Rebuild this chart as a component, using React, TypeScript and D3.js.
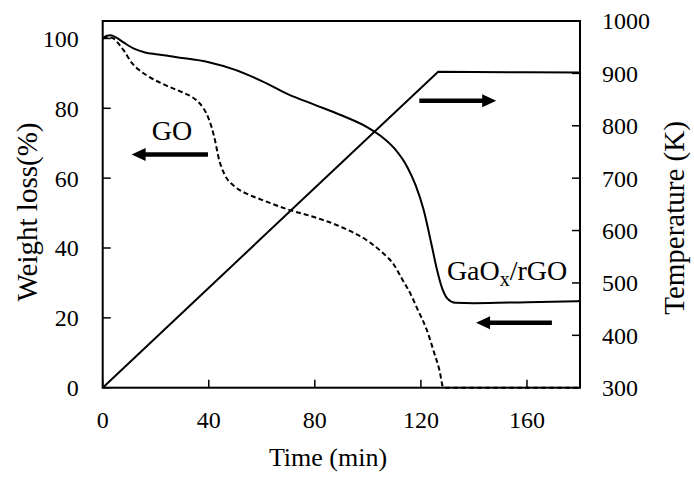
import React from "react";
import * as d3 from "d3";

const xTicks = [0, 40, 80, 120, 160];
const yLeftTicks = [0, 20, 40, 60, 80, 100];
const yRightTicks = [300, 400, 500, 600, 700, 800, 900, 1000];

// GaOx/rGO weight loss (%) vs time (min)
const rgoTime = [0, 1.5, 3, 5, 8, 12, 16, 20, 25, 28, 30, 40, 50, 60, 70, 80, 90, 100, 105, 110, 115, 118, 121, 124, 126, 128, 130, 133, 140, 160, 180];
const rgoWeight = [100, 100.8, 100.9, 100.3, 98.8, 97, 96, 95.5, 95, 94.6, 94.4, 93.2, 91, 87.8, 84, 81, 78, 74.5, 72, 68.5, 63, 58, 51, 41, 34, 28.5, 25.5, 24.3, 24.2, 24.5, 24.8];

// GO weight loss (%) vs time (min)
const goTime = [0, 2, 4, 6, 8, 11, 14, 18, 24, 30, 35, 38, 40, 42, 44, 46, 50, 55, 60, 70, 80, 90, 100, 105, 110, 113, 116, 119, 122, 125, 127, 128.5, 140, 160, 180];
const goWeight = [100, 100.4, 100, 98.5, 96.5, 93, 90.8, 88.8, 86.5, 84.6, 82.5, 80, 77, 72, 65, 61, 57.5, 55.3, 53.8, 51, 48.8, 46, 42, 39, 35, 31, 27, 22, 17, 10, 5, 0, 0, 0, 0];

// Temperature (K) vs time (min)
const tempTime = [0, 126.5, 140, 160, 180];
const tempValue = [300, 903, 902.5, 902, 901.5];

// Annotation arrows in data coords: [tailTime, headTime, weight]
const arrowTails = [39.7, 119.4, 169.4];
const arrowHeads = [10.9, 148.4, 140.8];
const arrowLevels = [66.8, 82.2, 18.6];

const FONT = "'Liberation Serif', 'Times New Roman', serif";

export default function App() {
  const W = 694, H = 477;
  const L = 102.7, R = 580, T = 21, B = 387.7;
  const x = d3.scaleLinear().domain([0, 180]).range([L, R]);
  const yL = d3.scaleLinear().domain([0, 105]).range([B, T]);
  const yR = d3.scaleLinear().domain([300, 1000]).range([B, T]);

  const lineW = d3.line<[number, number]>().x(d => x(d[0])).y(d => yL(d[1])).curve(d3.curveMonotoneX);
  const lineT = d3.line<[number, number]>().x(d => x(d[0])).y(d => yR(d[1]));

  const rgo = rgoTime.map((t, i) => [t, rgoWeight[i]] as [number, number]);
  const go = goTime.map((t, i) => [t, goWeight[i]] as [number, number]);
  const temp = tempTime.map((t, i) => [t, tempValue[i]] as [number, number]);

  const arrows = arrowTails.map((tail, i) => {
    const x1 = x(tail), x2 = x(arrowHeads[i]), yy = yL(arrowLevels[i]);
    const dir = x2 > x1 ? 1 : -1;
    const headLen = 14, headHalf = 6.5;
    const base = x2 - dir * headLen;
    return (
      <g key={i}>
        <line x1={x1} y1={yy} x2={base + dir * 1} y2={yy} stroke="#000" strokeWidth={4.5} />
        <path d={`M${x2},${yy} L${base},${yy - headHalf} L${base},${yy + headHalf} Z`} fill="#000" />
      </g>
    );
  });

  return (
    <svg width={W} height={H} style={{ position: "absolute", left: 0, top: 0, background: "#fff" }} fontFamily={FONT}>
      <rect width={W} height={H} fill="#fff" />
      {/* curves */}
      <path d={lineT(temp) || ""} fill="none" stroke="#000" strokeWidth={2} />
      <path d={lineW(go) || ""} fill="none" stroke="#000" strokeWidth={2} strokeDasharray="5,3" />
      <path d={lineW(rgo) || ""} fill="none" stroke="#000" strokeWidth={2} />
      {/* frame */}
      <rect x={L} y={T} width={R - L} height={B - T} fill="none" stroke="#000" strokeWidth={2} />
      {/* left ticks */}
      {yLeftTicks.map(v => (
        <g key={"l" + v}>
          <line x1={L} x2={L + 8} y1={yL(v)} y2={yL(v)} stroke="#000" strokeWidth={1.5} />
          <text x={L - 24} y={yL(v)} dy="0.35em" textAnchor="end" fontSize={24}>{v}</text>
        </g>
      ))}
      {/* right ticks */}
      {yRightTicks.map(v => (
        <g key={"r" + v}>
          <line x1={R - 8} x2={R} y1={yR(v)} y2={yR(v)} stroke="#000" strokeWidth={1.5} />
          <text x={R + 22} y={yR(v)} dy="0.35em" textAnchor="start" fontSize={24}>{v}</text>
        </g>
      ))}
      {/* bottom ticks */}
      {xTicks.map(v => (
        <g key={"x" + v}>
          <line x1={x(v)} x2={x(v)} y1={B} y2={B - 8} stroke="#000" strokeWidth={1.5} />
          <text x={x(v)} y={428} textAnchor="middle" fontSize={24}>{v}</text>
        </g>
      ))}
      {/* axis titles */}
      <text x={328} y={466} textAnchor="middle" fontSize={26}>Time (min)</text>
      <text transform={`translate(37,212) rotate(-90)`} textAnchor="middle" fontSize={29}>Weight loss(%)</text>
      <text transform={`translate(684,218) rotate(-90)`} textAnchor="middle" fontSize={29}>Temperature (K)</text>
      {/* annotations */}
      {arrows}
      <text x={x(18.5)} y={yL(70.8)} fontSize={28}>GO</text>
      <text x={x(129.8)} y={yL(30.8)} fontSize={28}>
        GaO<tspan fontSize={20} dy={6}>x</tspan><tspan dy={-6}>/rGO</tspan>
      </text>
    </svg>
  );
}
